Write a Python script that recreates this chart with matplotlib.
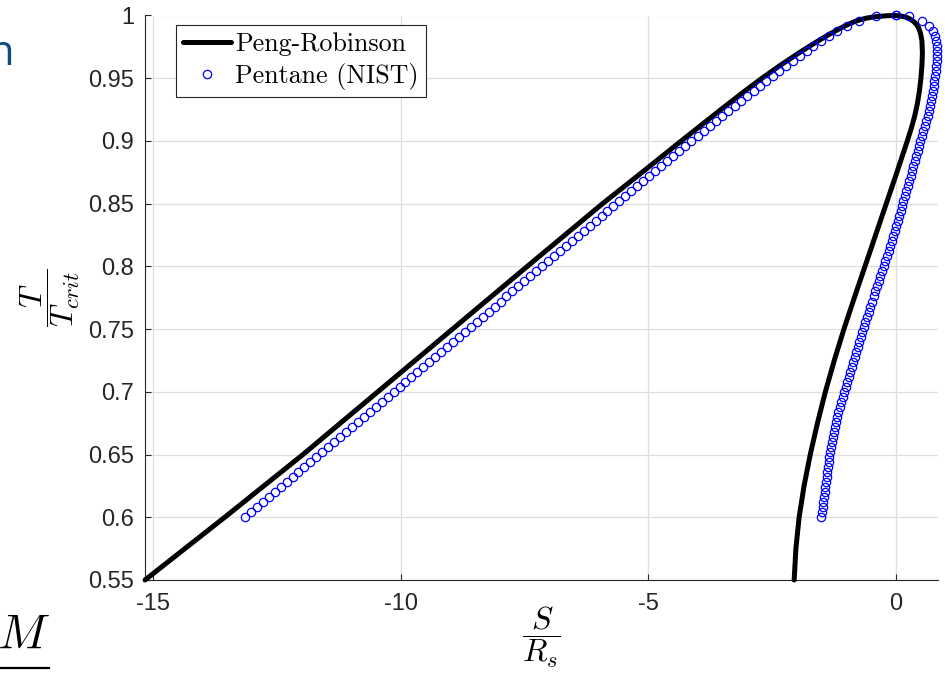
import matplotlib
matplotlib.use("Agg")
import matplotlib.pyplot as plt
from matplotlib.lines import Line2D

# ── Peng-Robinson saturation dome (liquid branch up, vapour branch down) ─────
pr_T = [0.550, 0.600, 0.650, 0.700, 0.750, 0.800, 0.850, 0.875, 0.900, 0.925,
        0.940, 0.950, 0.960, 0.970, 0.975, 0.980, 0.985, 0.990, 0.9925, 0.995,
        0.9967, 0.998, 0.999, 0.9998, 1.000,
        0.9996, 0.999, 0.998, 0.997, 0.995, 0.9926, 0.990, 0.986, 0.980, 0.970,
        0.960, 0.950, 0.940, 0.930, 0.920, 0.910, 0.900, 0.875, 0.850, 0.825,
        0.800, 0.775, 0.750, 0.725, 0.700, 0.675, 0.650, 0.625, 0.600, 0.575,
        0.550]
pr_S = [-15.16, -13.55, -11.97, -10.46, -8.95, -7.44, -5.92, -5.12, -4.33, -3.53,
        -3.04, -2.70, -2.34, -1.96, -1.76, -1.555, -1.34, -1.11, -0.98, -0.84,
        -0.71, -0.58, -0.42, -0.18, 0.00,
        0.10, 0.17, 0.25, 0.30, 0.37, 0.425, 0.465, 0.50, 0.53, 0.54,
        0.53, 0.51, 0.48, 0.44, 0.385, 0.315, 0.235, 0.025, -0.19, -0.405,
        -0.62, -0.835, -1.045, -1.24, -1.42, -1.58, -1.725, -1.85, -1.95, -2.015,
        -2.05]

# ── Pentane saturation data (NIST), reduced temperature ──────────────────────
nist_T = [0.600, 0.604, 0.608, 0.612, 0.616, 0.620, 0.624, 0.628, 0.632, 0.636,
          0.640, 0.644, 0.648, 0.652, 0.656, 0.660, 0.664, 0.668, 0.672, 0.676,
          0.680, 0.684, 0.688, 0.692, 0.696, 0.700, 0.704, 0.708, 0.712, 0.716,
          0.720, 0.724, 0.728, 0.732, 0.736, 0.740, 0.744, 0.748, 0.752, 0.756,
          0.760, 0.764, 0.768, 0.772, 0.776, 0.780, 0.784, 0.788, 0.792, 0.796,
          0.800, 0.804, 0.808, 0.812, 0.816, 0.820, 0.824, 0.828, 0.832, 0.836,
          0.840, 0.844, 0.848, 0.852, 0.856, 0.860, 0.864, 0.868, 0.872, 0.876,
          0.880, 0.884, 0.888, 0.892, 0.896, 0.900, 0.904, 0.908, 0.912, 0.916,
          0.920, 0.924, 0.928, 0.932, 0.936, 0.940, 0.944, 0.948, 0.952, 0.956,
          0.960, 0.964, 0.968, 0.972, 0.976, 0.980, 0.984, 0.988, 0.992, 0.996,
          0.9995, 1.000]
nist_S_liq = [-13.14, -13.02, -12.90, -12.78, -12.66, -12.54, -12.42, -12.30, -12.18, -12.06,
              -11.94, -11.82, -11.70, -11.58, -11.46, -11.34, -11.22, -11.10, -10.98, -10.86,
              -10.74, -10.62, -10.50, -10.38, -10.26, -10.14, -10.02, -9.90, -9.78, -9.66,
              -9.54, -9.42, -9.30, -9.18, -9.06, -8.94, -8.82, -8.70, -8.58, -8.46,
              -8.34, -8.22, -8.10, -7.98, -7.86, -7.74, -7.62, -7.50, -7.38, -7.26,
              -7.14, -7.02, -6.90, -6.78, -6.66, -6.54, -6.42, -6.30, -6.18, -6.06,
              -5.94, -5.82, -5.70, -5.58, -5.46, -5.34, -5.22, -5.10, -4.98, -4.86,
              -4.74, -4.62, -4.50, -4.38, -4.26, -4.13, -4.00, -3.87, -3.75, -3.63,
              -3.50, -3.38, -3.25, -3.13, -3.00, -2.87, -2.74, -2.61, -2.48, -2.35,
              -2.22, -2.08, -1.94, -1.80, -1.66, -1.51, -1.35, -1.18, -0.98, -0.74,
              -0.39, 0.00]
nist_S_vap = [-1.500, -1.487, -1.474, -1.461, -1.448, -1.435, -1.422, -1.409, -1.396, -1.383,
              -1.370, -1.354, -1.338, -1.322, -1.306, -1.290, -1.269, -1.248, -1.227, -1.206,
              -1.185, -1.156, -1.127, -1.098, -1.069, -1.040, -1.010, -0.980, -0.950, -0.920,
              -0.890, -0.860, -0.830, -0.800, -0.770, -0.740, -0.708, -0.676, -0.644, -0.612,
              -0.580, -0.546, -0.512, -0.478, -0.444, -0.410, -0.376, -0.342, -0.308, -0.274,
              -0.240, -0.208, -0.176, -0.144, -0.112, -0.080, -0.050, -0.020, 0.010, 0.040,
              0.070, 0.098, 0.126, 0.154, 0.182, 0.210, 0.240, 0.270, 0.300, 0.330,
              0.360, 0.388, 0.416, 0.444, 0.472, 0.500, 0.530, 0.560, 0.590, 0.620,
              0.650, 0.671, 0.692, 0.713, 0.734, 0.755, 0.769, 0.783, 0.796, 0.808,
              0.820, 0.829, 0.835, 0.834, 0.825, 0.810, 0.785, 0.750, 0.670, 0.540,
              0.26, 0.00]

x_ticks = [-15, -10, -5, 0]
x_ticklabels = ["-15", "-10", "-5", "0"]
y_ticks = [0.55, 0.60, 0.65, 0.70, 0.75, 0.80, 0.85, 0.90, 0.95, 1.00]
y_ticklabels = ["0.55", "0.6", "0.65", "0.7", "0.75", "0.8", "0.85", "0.9", "0.95", "1"]

AX_COLOR = "#262626"

plt.rcParams["mathtext.fontset"] = "cm"

fig = plt.figure(figsize=(9.48, 6.89), dpi=100)
ax = fig.add_axes([145 / 948, 109 / 689, 793 / 948, 564.5 / 689])

ax.plot(pr_S, pr_T, color="black", lw=3.6, label="Peng-Robinson",
        solid_capstyle="round", solid_joinstyle="round", clip_on=False, zorder=3)
ax.plot(nist_S_liq + nist_S_vap, nist_T + nist_T, ls="none", marker="o",
        ms=6, mfc="none", mec="blue", mew=0.9, label="Pentane (NIST)",
        clip_on=False, zorder=4)

ax.set_xlim(-15.16, 0.855)
ax.set_ylim(0.55, 1.0)
ax.set_xticks(x_ticks)
ax.set_xticklabels(x_ticklabels)
ax.set_yticks(y_ticks)
ax.set_yticklabels(y_ticklabels)

for lab in ax.get_xticklabels() + ax.get_yticklabels():
    lab.set_fontfamily("Liberation Sans")
    lab.set_fontsize(17)
    lab.set_color(AX_COLOR)

ax.tick_params(direction="in", length=4, width=0.8, color=AX_COLOR)
ax.tick_params(axis="x", pad=9)
ax.tick_params(axis="y", pad=8)

ax.spines["top"].set_visible(False)
ax.spines["right"].set_visible(False)
for side in ("left", "bottom"):
    ax.spines[side].set_color(AX_COLOR)
    ax.spines[side].set_linewidth(0.8)

ax.grid(True, color="#dedede", lw=0.9)
ax.set_axisbelow(True)

ax.set_xlabel(r"$\dfrac{S}{R_s}$", fontsize=23, labelpad=-7)
ax.set_ylabel(r"$\dfrac{T}{T_{crit}}$", fontsize=23, labelpad=4)

leg = ax.legend(loc="upper left", bbox_to_anchor=(0.0387, 0.983),
                borderaxespad=0, prop={"family": "cmr10", "size": 18.7},
                fancybox=False, framealpha=1, edgecolor=AX_COLOR,
                numpoints=1, handlelength=1.85, handletextpad=0.15,
                borderpad=0.28, labelspacing=0.25)
leg.get_frame().set_linewidth(0.8)

# slide remnants around the figure
fig.text(14 / 948, 1 - 65 / 689, "n", fontsize=30, color="#0f4c81",
         family="Open Sans", ha="right", va="baseline")
fig.text(50 / 948, 1 - 648 / 689, r"$M$", fontsize=35, ha="right", va="baseline")
fig.add_artist(Line2D([0, 49 / 948], [1 - 668 / 689] * 2,
                      transform=fig.transFigure, color="black", lw=1.6))

fig.savefig("out.png", dpi=100)
